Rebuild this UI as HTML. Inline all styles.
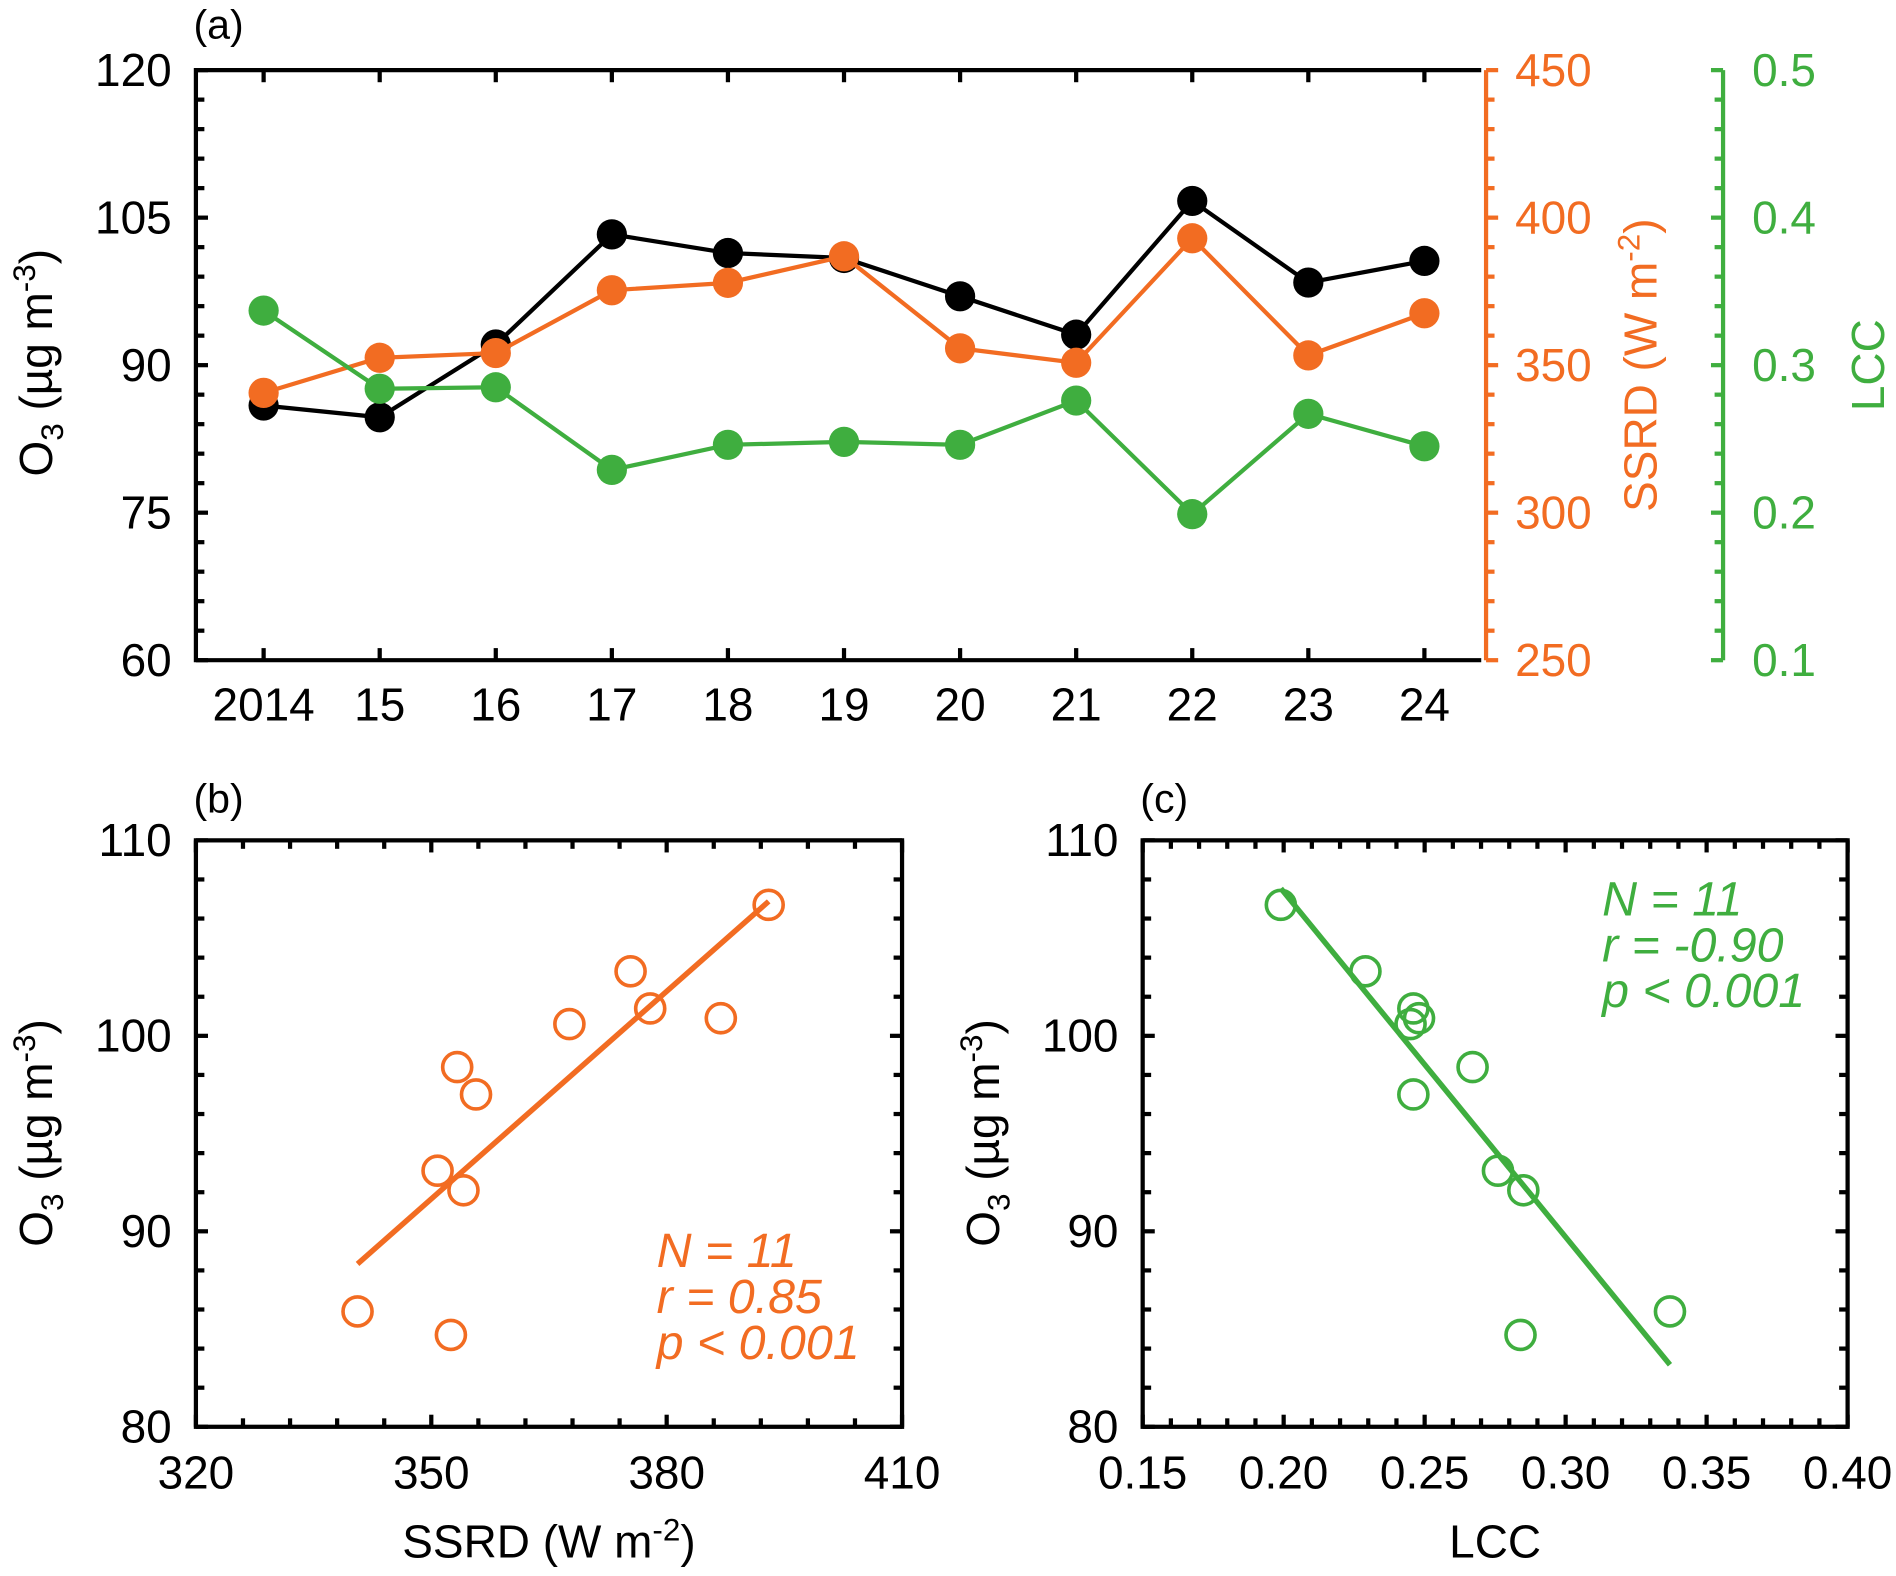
<!DOCTYPE html>
<html><head><meta charset="utf-8"><style>
html,body{margin:0;padding:0;background:#fff}
svg{display:block;font-family:"Liberation Sans",Arial,sans-serif}
</style></head><body>
<svg id="fig" width="1896" height="1576" viewBox="0 0 1568 1303.4"></svg>
<script>
const years=["2014","15","16","17","18","19","20","21","22","23","24"];
const o3=[85.9,84.7,92.1,103.3,101.4,100.9,97.0,93.1,106.7,98.4,100.6];
const ssrd=[340.6,352.5,354.1,375.4,377.9,386.9,355.7,350.8,393.0,353.3,367.6];
const lcc=[0.337,0.284,0.285,0.229,0.246,0.248,0.246,0.276,0.199,0.267,0.245];
const o3Ticks=[60,75,90,105,120];
const ssrdTicks=[250,300,350,400,450];
const lccTicks=[0.1,0.2,0.3,0.4,0.5];
const bYTicks=[80,90,100,110];
const bXTicks=[320,350,380,410];
const cXTicks=["0.15","0.20","0.25","0.30","0.35","0.40"];

const NS="http://www.w3.org/2000/svg";
const svg=document.getElementById('fig');
const OR="#f26c22", GR="#3fae3f";
const FS=38, SW=3.5;
function el(tag,attrs,parent){const e=document.createElementNS(NS,tag);for(const k in attrs)e.setAttribute(k,attrs[k]);(parent||svg).appendChild(e);return e;}
function txt(s,x,y,attrs,parent){const t=el('text',Object.assign({x:x,y:y,'font-size':FS},attrs),parent);t.textContent=s;return t;}
function lin(a,b,p,q){return v=>p+(v-a)/(b-a)*(q-p);}

// ===== Panel a =====
const ga=el('g',{});


const ax0=162,ax1=1225,ay0=58,ay1=546;
const xa=i=>218+i*96;
const ya=lin(60,120,ay1,ay0), ys=lin(250,450,ay1,ay0), yl=lin(0.1,0.5,ay1,ay0);
for(let v=60;v<=120;v+=3){const y=ya(v);const maj=(v%15===0);el('line',{x1:ax0,x2:ax0+(maj?10:7),y1:y,y2:y,stroke:'#000','stroke-width':SW},ga);}
o3Ticks.forEach(v=>{const t=txt(String(v),ax0-20,ya(v)+13,{'text-anchor':'end'},ga);});
years.forEach((s,i)=>{el('line',{x1:xa(i),x2:xa(i),y1:ay0,y2:ay0+10,stroke:'#000','stroke-width':SW},ga);el('line',{x1:xa(i),x2:xa(i),y1:ay1,y2:ay1-10,stroke:'#000','stroke-width':SW},ga);const t=txt(s,xa(i),596,{'text-anchor':'middle'},ga);});
el('polyline',{points:`${ax1},${ay0} ${ax0},${ay0} ${ax0},${ay1} ${ax1},${ay1}`,fill:'none',stroke:'#000','stroke-width':SW},ga);
el('line',{x1:ax1+4,x2:ax1+4,y1:ay0,y2:ay1,stroke:OR,'stroke-width':SW},ga);
for(let v=250;v<=450;v+=10){const y=ys(v);const maj=(v%50===0);el('line',{x1:ax1+4,x2:ax1+4+(maj?10:7),y1:y,y2:y,stroke:OR,'stroke-width':SW},ga);}
ssrdTicks.forEach(v=>{const t=txt(String(v),1253,ys(v)+13,{fill:OR},ga);});
const gx=1425;
el('line',{x1:gx,x2:gx,y1:ay0,y2:ay1,stroke:GR,'stroke-width':SW},ga);
for(let k=0;k<=20;k++){const v=0.1+k*0.02;const y=yl(v);const maj=(k%5===0);el('line',{x1:gx,x2:gx-(maj?10:7),y1:y,y2:y,stroke:GR,'stroke-width':SW},ga);}
lccTicks.forEach(v=>{const t=txt(v.toFixed(1),1449,yl(v)+13,{fill:GR},ga);});
const ta=txt('(a)',160,32,{'font-size':34},ga);
function o3Title(x,y,parent){const t=el('text',{transform:`translate(${x},${y}) rotate(-90)`,'text-anchor':'middle','font-size':FS},parent);t.innerHTML='O<tspan font-size="26" dy="9">3</tspan><tspan dy="-9"> (µg m</tspan><tspan font-size="26" dy="-14">-3</tspan><tspan dy="14">)</tspan>';return t;}
let t1=o3Title(43,300,ga);
let t2=el('text',{transform:`translate(1370,302) rotate(-90)`,'text-anchor':'middle','font-size':FS,fill:OR},ga);t2.innerHTML='SSRD (W m<tspan font-size="26" dy="-14">-2</tspan><tspan dy="14">)</tspan>';

let t3=el('text',{transform:`translate(1558,302) rotate(-90)`,'text-anchor':'middle','font-size':FS,fill:GR},ga);t3.textContent='LCC';

function series(vals,yf,color,name){const g=el('g',{},ga);
 el('polyline',{points:vals.map((v,i)=>xa(i)+','+yf(v)).join(' '),fill:'none',stroke:color,'stroke-width':SW},g);
 vals.forEach((v,i)=>{const c=el('circle',{cx:xa(i),cy:yf(v),r:12.5,fill:color},g);});}
series(o3,ya,'#000','o3-series');
series(ssrd,ys,OR,'ssrd-series');
series(lcc,yl,GR,'lcc-series');

// ===== scatter panels =====
function fit(xs,ys){const n=xs.length;const mx=xs.reduce((a,b)=>a+b)/n,my=ys.reduce((a,b)=>a+b)/n;let sxy=0,sxx=0;for(let i=0;i<n;i++){sxy+=(xs[i]-mx)*(ys[i]-my);sxx+=(xs[i]-mx)**2;}const b=sxy/sxx;return [my-b*mx,b];}
function scatter(opt){
 const g=el('g',{});
 const X0=opt.x0,X1=opt.x1,Y0=695,Y1=1180;
 const xf=lin(opt.xmin,opt.xmax,X0,X1), yf=lin(80,110,Y1,Y0);
 el('rect',{x:X0,y:Y0,width:X1-X0,height:Y1-Y0,fill:'none',stroke:'#000','stroke-width':SW},g);
 for(let k=0;k<=15;k++){const y=yf(80+k*2);const m=k%5===0;el('line',{x1:X0,x2:X0+(m?10:7),y1:y,y2:y,stroke:'#000','stroke-width':SW},g);el('line',{x1:X1,x2:X1-(m?10:7),y1:y,y2:y,stroke:'#000','stroke-width':SW},g);}
 const nx=opt.xt.length-1, sub=5;
 for(let k=0;k<=nx*sub;k++){const v=opt.xmin+(opt.xmax-opt.xmin)*k/(nx*sub);const x=xf(v);const m=k%sub===0;el('line',{x1:x,x2:x,y1:Y1,y2:Y1-(m?10:7),stroke:'#000','stroke-width':SW},g);el('line',{x1:x,x2:x,y1:Y0,y2:Y0+(m?10:7),stroke:'#000','stroke-width':SW},g);}
 bYTicks.forEach(v=>{const t=txt(String(v),X0-20,yf(v)+13,{'text-anchor':'end'},g);});
 opt.xt.forEach((s,i)=>{const t=txt(s,xf(opt.xmin+(opt.xmax-opt.xmin)*i/nx),1231,{'text-anchor':'middle'},g);});
 const lb=txt(opt.label,X0-2,672,{'font-size':34},g);
 const yt=o3Title(X0-119,937,g);
 const xt=el('text',{x:(X0+X1)/2,y:1288,'text-anchor':'middle','font-size':FS},g);xt.innerHTML=opt.xtitle;
 const [a,b]=fit(opt.xs,o3);const mn=Math.min(...opt.xs),mx=Math.max(...opt.xs);
 const fl=el('line',{x1:xf(mn),y1:yf(a+b*mn),x2:xf(mx),y2:yf(a+b*mx),stroke:opt.color,'stroke-width':4.5},g);
 opt.xs.forEach((v,i)=>{const c=el('circle',{cx:xf(v),cy:yf(o3[i]),r:12,fill:'none',stroke:opt.color,'stroke-width':3},g);});
 const st=el('g',{},g);
 opt.stats.forEach((s,i)=>txt(s,opt.sx,opt.sy+i*38,{fill:opt.color,'font-style':'italic','font-size':40},st));
}
scatter({name:'panel-b',x0:162,x1:746,xmin:320,xmax:410,xt:bXTicks.map(String),xs:ssrd,color:OR,label:'(b)',
 xtitle:'SSRD (W m<tspan font-size="26" dy="-14">-2</tspan><tspan dy="14">)</tspan>',stats:['N = 11','r = 0.85','p < 0.001'],sx:543,sy:1048});
scatter({name:'panel-c',x0:945,x1:1528,xmin:0.15,xmax:0.40,xt:cXTicks,xs:lcc,color:GR,label:'(c)',
 xtitle:'LCC',stats:['N = 11','r = -0.90','p < 0.001'],sx:1325,sy:757});
</script>
</body></html>
